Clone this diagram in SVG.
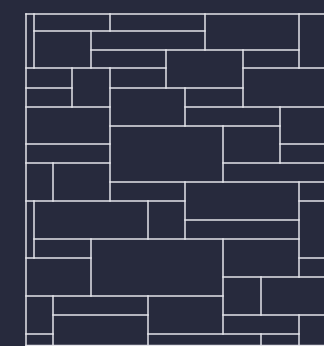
<svg xmlns="http://www.w3.org/2000/svg" width="324" height="346" viewBox="0 0 324 346">
<style>
.bg{fill:#272a3d}
.ln{stroke:#e4e4ea;stroke-width:1.5;fill:none;stroke-linecap:square}
</style>
<rect class="bg" x="0" y="0" width="324" height="346"/>
<g id="horizontal-lines" class="ln">
<path d="M26 14H324"/>
<path d="M34 31H205"/>
<path d="M91 50H299"/>
<path d="M26 68H166M243 68H324"/>
<path d="M26 88H72M110 88H243"/>
<path d="M26 107H110M185 107H324"/>
<path d="M110 126H280"/>
<path d="M26 144H110M280 144H324"/>
<path d="M26 163H110M223 163H324"/>
<path d="M110 182H324"/>
<path d="M26 201H185M299 201H324"/>
<path d="M185 220H299"/>
<path d="M34 239H299"/>
<path d="M26 258H91M299 258H324"/>
<path d="M223 277H324"/>
<path d="M26 296H223"/>
<path d="M53 315H148M223 315H324"/>
<path d="M26 334H53M148 334H299"/>
<path d="M26 345.5H324"/>
</g>
<g id="vertical-lines" class="ln">
<path d="M26 14V346"/>
<path d="M34 14V68M34 201V258"/>
<path d="M53 163V201M53 296V346"/>
<path d="M72 68V107"/>
<path d="M91 31V68M91 239V296"/>
<path d="M110 14V31M110 68V201"/>
<path d="M148 201V239M148 296V346"/>
<path d="M166 50V88"/>
<path d="M185 88V126M185 182V239"/>
<path d="M205 14V50"/>
<path d="M223 126V182M223 239V334"/>
<path d="M243 50V107"/>
<path d="M261 277V315M261 334V346"/>
<path d="M280 107V163"/>
<path d="M299 14V68M299 182V277M299 315V346"/>
</g>
</svg>
